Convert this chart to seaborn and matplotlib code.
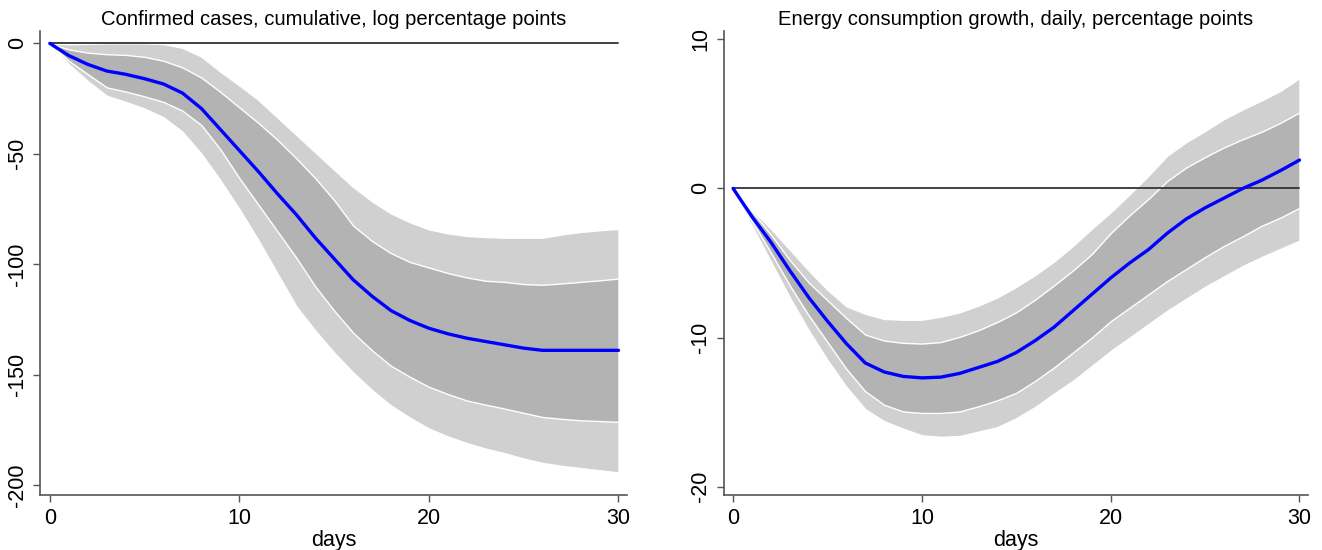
import numpy as np
import pandas as pd
import seaborn as sns
import matplotlib
matplotlib.use("Agg")
import matplotlib.pyplot as plt

# horizon in days
days = list(range(31))

# confirmed cases, cumulative (log percentage points)
cases_mid = [0, -5.5, -9.5, -12.5, -14, -16, -18.4, -22.5, -29.5, -39, -48.5, -58, -68, -77.5,
             -88, -97.5, -107, -114.5, -121, -125.5, -129, -131.5, -133.5, -135, -136.5, -138, -139,
             -139, -139, -139, -139]
cases_in_hi = [0, -2.7, -4.2, -4.9, -5.2, -6.1, -7.9, -10.9, -15.5, -22, -29, -36, -43.6, -52,
               -61, -71, -82.5, -89.5, -95, -99, -101.5, -104, -106, -107.5, -108, -109, -109.3,
               -108.7, -108, -107.3, -106.5]
cases_in_lo = [0, -7.9, -13.9, -19.9, -21.8, -24, -26.5, -30.5, -37, -48, -61, -73, -85, -97,
               -110, -121, -131, -139, -146, -151, -155.5, -158.8, -161.7, -163.6, -165.4, -167.3,
               -169.2, -170, -170.7, -171, -171.4]
cases_out_hi = [0, -0.4, -0.2, 0, 0, 0, -0.3, -2, -6, -12.8, -19, -25.6, -33.5, -41.4, -49.3, -57.2,
                -65, -71.5, -77, -81, -84.2, -86, -87.2, -87.7, -88, -88, -88, -86.5, -85.4, -84.6, -84]
cases_out_lo = [0, -9.4, -17, -23.7, -26.5, -29.5, -33.5, -40, -50, -62, -75, -89, -104, -119,
                -130, -140, -149, -157, -164, -169.5, -174.4, -178, -181, -183.5, -185.6, -188,
                -190, -191.3, -192.3, -193.3, -194.3]

# energy consumption growth, daily (percentage points)
energy_mid = [0, -1.9, -3.6, -5.5, -7.3, -8.9, -10.4, -11.7, -12.3, -12.6, -12.7, -12.65, -12.4,
              -12.0, -11.6, -11.0, -10.2, -9.3, -8.2, -7.1, -6.0, -5.0, -4.1, -3.0, -2.05, -1.3,
              -0.65, 0, 0.55, 1.2, 1.9]
energy_in_hi = [0, -1.55, -3.1, -4.8, -6.3, -7.5, -8.7, -9.8, -10.2, -10.35, -10.4, -10.3, -9.95,
                -9.5, -8.95, -8.3, -7.45, -6.5, -5.5, -4.4, -3.0, -1.8, -0.7, 0.5, 1.4, 2.1, 2.75,
                3.3, 3.8, 4.4, 5.1]
energy_in_lo = [0, -2.2, -4.3, -6.5, -8.5, -10.3, -12.1, -13.6, -14.5, -14.95, -15.05, -15.05,
                -14.95, -14.6, -14.2, -13.7, -12.9, -12.0, -11.0, -10.0, -8.9, -8.0, -7.1, -6.2,
                -5.4, -4.6, -3.85, -3.2, -2.5, -1.95, -1.3]
energy_out_hi = [0, -1.45, -2.7, -4.1, -5.5, -6.8, -7.9, -8.4, -8.75, -8.8, -8.8, -8.6, -8.3,
                 -7.85, -7.3, -6.6, -5.8, -4.9, -3.85, -2.7, -1.6, -0.4, 0.85, 2.2, 3.1, 3.85, 4.65,
                 5.3, 5.9, 6.55, 7.4]
energy_out_lo = [0, -2.5, -4.9, -7.3, -9.5, -11.5, -13.3, -14.8, -15.6, -16.1, -16.55, -16.65,
                 -16.6, -16.3, -16.0, -15.4, -14.65, -13.75, -12.9, -11.9, -10.9, -10.0, -9.1, -8.2,
                 -7.4, -6.6, -5.9, -5.2, -4.6, -4.05, -3.5]

titles = ["Confirmed cases, cumulative, log percentage points",
          "Energy consumption growth, daily, percentage points"]
yticks_list = [[0, -50, -100, -150, -200], [10, 0, -10, -20]]
ylims = [(-204.5, 5.6), (-20.55, 10.55)]

sns.set_style("ticks")
plt.rcParams['font.family'] = ['Liberation Sans', 'DejaVu Sans']
plt.rcParams['text.color'] = 'black'
plt.rcParams['axes.labelcolor'] = 'black'

fig = plt.figure(figsize=(13.22, 5.5), dpi=100)
ax1 = fig.add_axes([0.0305, 0.1, 0.4438, 0.8436])
ax2 = fig.add_axes([0.5474, 0.1, 0.4420, 0.8436])

panels = [
    (ax1, cases_mid, cases_in_hi, cases_in_lo, cases_out_hi, cases_out_lo),
    (ax2, energy_mid, energy_in_hi, energy_in_lo, energy_out_hi, energy_out_lo),
]

for i, (ax, mid, in_hi, in_lo, out_hi, out_lo) in enumerate(panels):
    df = pd.DataFrame({"days": days, "irf": mid})
    ax.fill_between(days, out_lo, out_hi, facecolor="#d0d0d0", edgecolor="white", linewidth=1.0, zorder=1)
    ax.fill_between(days, in_lo, in_hi, facecolor="#b3b3b3", edgecolor="white", linewidth=1.0, zorder=2)
    ax.plot([0, 30], [0, 0], color="#333333", linewidth=1.3, zorder=3)
    sns.lineplot(data=df, x="days", y="irf", ax=ax, color="#0000ff", linewidth=2.4, zorder=4)

    ax.set_xlim(-0.5, 30.45)
    ax.set_ylim(*ylims[i])
    ax.set_xticks([0, 10, 20, 30])
    ax.set_yticks(yticks_list[i])
    ax.set_yticklabels([str(t) for t in yticks_list[i]], rotation=90, va="center")
    ax.set_xlabel("days", fontsize=15.5, labelpad=1, color="black")
    ax.set_ylabel("")
    ax.set_title(titles[i], fontsize=14.6, pad=4, color="black")
    ax.tick_params(axis="both", labelsize=15.5, length=5, width=1.0, color="#555555",
                   labelcolor="black", pad=4)
    for s in ["top", "right"]:
        ax.spines[s].set_visible(False)
    for s in ["left", "bottom"]:
        ax.spines[s].set_color("#555555")
        ax.spines[s].set_linewidth(1.2)

fig.savefig("out.png", dpi=100)
